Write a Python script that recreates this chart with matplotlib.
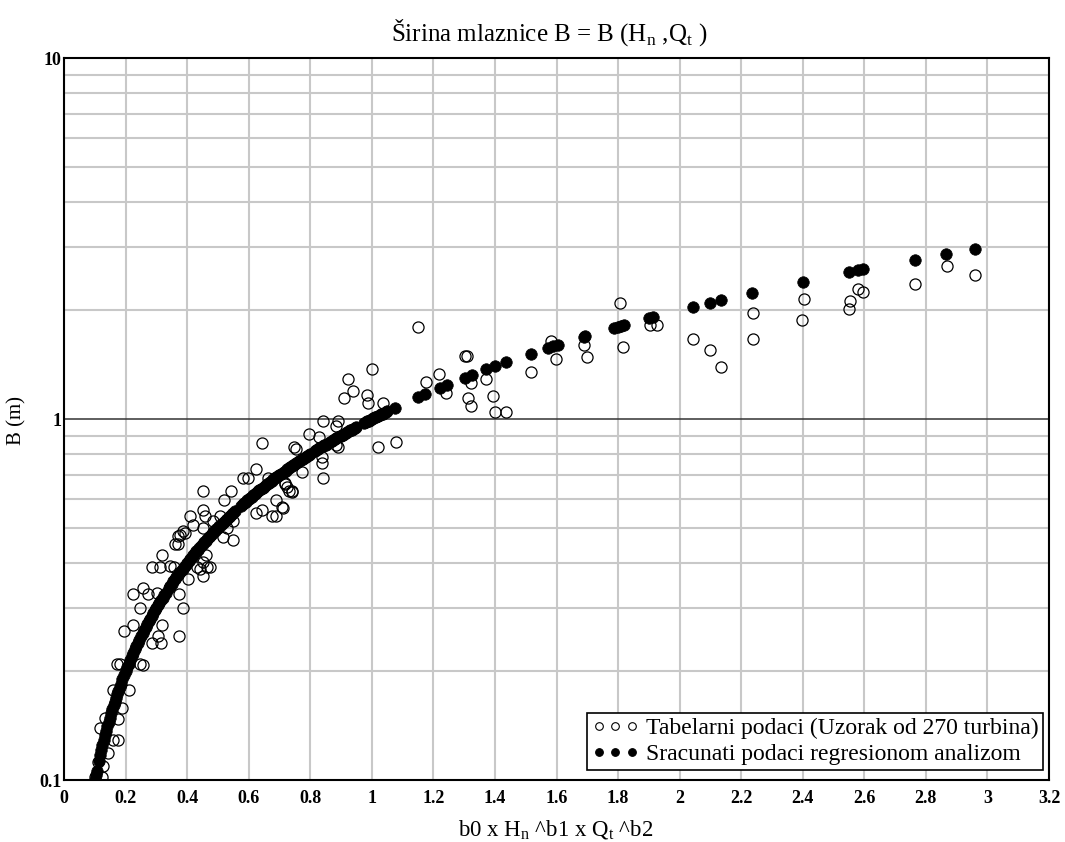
# Širina mlaznice B u zavisnosti od b0 x Hn^b1 x Qt^b2 (log skala)
import matplotlib.pyplot as plt
from matplotlib.lines import Line2D
from matplotlib.ticker import LogLocator, NullFormatter

# tabelarni podaci: argument regresije i izmerena širina B (m)
x_tab = [0.100, 0.122, 0.111, 0.128, 0.144, 0.160, 0.176, 0.117, 0.133, 0.176,
         0.187, 0.160, 0.212, 0.171, 0.182, 0.247, 0.255, 0.285, 0.314, 0.306,
         0.374, 0.196, 0.225, 0.317,
         0.247, 0.387, 0.225, 0.257, 0.274, 0.301, 0.374, 0.404, 0.452, 0.285,
         0.312, 0.344, 0.357, 0.431, 0.442, 0.465, 0.474, 0.317, 0.461, 0.360,
         0.371, 0.377, 0.393, 0.452, 0.371,
         0.420, 0.387, 0.409, 0.458, 0.483, 0.506, 0.528, 0.548, 0.517, 0.550,
         0.452, 0.450, 0.541, 0.519, 0.450, 0.642, 0.623, 0.677, 0.688, 0.712,
         0.707, 0.690, 0.731, 0.742, 0.718, 0.723, 0.582, 0.598, 0.663, 0.623,
         0.642,
         0.717, 0.740, 0.773, 0.747, 0.753, 0.795, 0.828, 0.838, 0.838, 0.841,
         0.841, 0.883, 0.890, 0.890, 0.885, 0.909, 0.922, 0.938, 0.984, 0.987,
         1.000, 1.019, 1.036, 1.078,
         1.149, 1.175, 1.218, 1.240, 1.302, 1.308, 1.312, 1.321, 1.321, 1.370,
         1.393, 1.399, 1.435, 1.516,
         1.581, 1.597, 1.688, 1.698, 1.805, 1.815, 1.905, 1.925, 2.045, 2.097,
         2.133, 2.237, 2.237, 2.396, 2.403, 2.549, 2.555, 2.578, 2.597, 2.763,
         2.867, 2.961]
b_tab = [0.102, 0.102, 0.112, 0.1095, 0.119, 0.129, 0.129, 0.139, 0.149, 0.148,
         0.158, 0.178, 0.178, 0.209, 0.209, 0.209, 0.208, 0.239, 0.239, 0.251,
         0.251, 0.259, 0.269, 0.269,
         0.299, 0.299, 0.328, 0.340, 0.328, 0.329, 0.328, 0.360, 0.367, 0.388,
         0.390, 0.392, 0.388, 0.390, 0.384, 0.390, 0.390, 0.420, 0.420, 0.451,
         0.451, 0.477, 0.482, 0.498, 0.474,
         0.509, 0.491, 0.539, 0.539, 0.522, 0.539, 0.498, 0.521, 0.472, 0.463,
         0.402, 0.560, 0.633, 0.596, 0.633, 0.560, 0.550, 0.539, 0.539, 0.566,
         0.570, 0.596, 0.633, 0.630, 0.664, 0.650, 0.685, 0.685, 0.685, 0.726,
         0.860,
         0.660, 0.628, 0.713, 0.836, 0.828, 0.909, 0.891, 0.785, 0.755, 0.687,
         0.987, 0.956, 0.987, 0.836, 0.848, 1.140, 1.290, 1.196, 1.165, 1.107,
         1.380, 0.836, 1.107, 0.864,
         1.800, 1.270, 1.330, 1.180, 1.495, 1.495, 1.140, 1.260, 1.087, 1.290,
         1.158, 1.046, 1.046, 1.350,
         1.645, 1.466, 1.600, 1.486, 2.090, 1.580, 1.820, 1.820, 1.670, 1.550,
         1.390, 1.970, 1.670, 1.880, 2.150, 2.020, 2.120, 2.290, 2.250, 2.370,
         2.650, 2.510]

# vrednosti b0 x Hn^b1 x Qt^b2 za koje je B sracunat regresijom
x_reg = [0.094, 0.097, 0.100, 0.103, 0.106,
         0.113, 0.117, 0.121, 0.125, 0.129, 0.133, 0.137, 0.141, 0.145, 0.149,
         0.153, 0.157, 0.161, 0.165, 0.169, 0.173, 0.177, 0.181, 0.185, 0.190,
         0.195, 0.200, 0.205, 0.210, 0.215, 0.220, 0.225, 0.230, 0.235, 0.240,
         0.245, 0.250, 0.255, 0.260, 0.265, 0.270, 0.275, 0.280, 0.285, 0.290,
         0.295, 0.300, 0.305, 0.310, 0.315, 0.320, 0.325, 0.330,
         0.340, 0.345, 0.350, 0.355, 0.360, 0.365, 0.370, 0.375, 0.380, 0.385,
         0.390, 0.395, 0.400, 0.405, 0.410, 0.415, 0.420, 0.425, 0.430, 0.435,
         0.440, 0.445, 0.450, 0.455, 0.460, 0.465, 0.470, 0.475, 0.480, 0.485,
         0.490, 0.495, 0.500, 0.505, 0.510, 0.515, 0.520, 0.525, 0.530, 0.535,
         0.540, 0.545, 0.550, 0.556,
         0.575, 0.580, 0.585, 0.590, 0.595, 0.600, 0.605, 0.610, 0.615, 0.620,
         0.625, 0.630, 0.635, 0.640, 0.645, 0.650, 0.655, 0.660, 0.665, 0.670,
         0.675, 0.680, 0.685, 0.690, 0.695, 0.700, 0.705, 0.710, 0.715, 0.720,
         0.725, 0.730, 0.735, 0.740, 0.745, 0.750, 0.755, 0.760, 0.765, 0.770,
         0.775, 0.780, 0.785, 0.790, 0.795, 0.800,
         0.815, 0.820, 0.825, 0.830, 0.835, 0.840, 0.845, 0.850, 0.855,
         0.865, 0.870, 0.875, 0.880, 0.885, 0.890, 0.895, 0.900, 0.905, 0.910,
         0.915, 0.920, 0.925, 0.930, 0.935, 0.940, 0.945, 0.950,
         0.975, 0.980, 0.985, 0.990, 0.995, 1.000, 1.005, 1.010, 1.015, 1.020,
         1.025, 1.030, 1.035, 1.040, 1.045, 1.050, 1.075,
         1.150, 1.174, 1.221, 1.243, 1.302, 1.324, 1.372, 1.399, 1.437, 1.516,
         1.572, 1.589, 1.605, 1.688, 1.694, 1.786, 1.800, 1.810, 1.820, 1.900,
         1.913, 2.043, 2.097, 2.133, 2.236, 2.400, 2.550, 2.579, 2.597, 2.764,
         2.866, 2.960]

x_ticks = [0, 0.2, 0.4, 0.6, 0.8, 1, 1.2, 1.4, 1.6, 1.8, 2, 2.2, 2.4, 2.6,
           2.8, 3, 3.2]
x_tick_labels = ["0", "0.2", "0.4", "0.6", "0.8", "1", "1.2", "1.4", "1.6",
                 "1.8", "2", "2.2", "2.4", "2.6", "2.8", "3", "3.2"]

plt.rcParams['font.family'] = ['Liberation Serif', 'DejaVu Serif']
plt.rcParams['mathtext.fontset'] = 'custom'
plt.rcParams['mathtext.rm'] = 'Liberation Serif'

fig = plt.figure(figsize=(10.65, 8.42), dpi=100)
ax = fig.add_axes([0.0601, 0.0736, 0.9249, 0.8575])

# tabelarni podaci - prazni kruzici
ax.plot(x_tab, b_tab, ls='none', marker='o', ms=8, mfc='none',
        mec='black', mew=0.9, zorder=3)
# sracunati podaci - B je jednak argumentu regresije
ax.plot(x_reg, x_reg, ls='none', marker='o', ms=8.3, mfc='black',
        mec='black', mew=0.5, zorder=4)

ax.set_yscale('log')
ax.set_xlim(0, 3.2)
ax.set_ylim(0.1, 10)

ax.set_xticks(x_ticks)
ax.set_xticklabels(x_tick_labels)
ax.set_yticks([0.1, 1, 10])
ax.set_yticklabels(["0.1", "1", "10"])
ax.yaxis.set_minor_locator(LogLocator(base=10, subs=range(2, 10)))
ax.yaxis.set_minor_formatter(NullFormatter())

ax.tick_params(axis='both', which='both', length=0)
ax.tick_params(axis='x', pad=7, labelsize=13)
ax.tick_params(axis='y', pad=2, labelsize=13)
for lab in ax.get_xticklabels() + ax.get_yticklabels():
    lab.set_fontweight('bold')

# mreza
ax.set_axisbelow(True)
ax.grid(axis='x', which='major', color='#c8c8c8', lw=1.5)
ax.grid(axis='y', which='minor', color='#c8c8c8', lw=1.5)
ax.axhline(1, color='#333333', lw=1.1, zorder=2)

for s in ax.spines.values():
    s.set_linewidth(1.5)
    s.set_color('black')

# naslov i oznake osa
fig.text(0.5155, 0.961, r"Širina mlaznice B = B (H$_{\mathrm{n}}$ ,Q$_{\mathrm{t}}$ )",
         ha='center', va='center', fontsize=18)
fig.text(0.522, 0.0145, r"b0 x H$_{\mathrm{n}}$ ^b1 x Q$_{\mathrm{t}}$ ^b2",
         ha='center', va='center', fontsize=16.5)
fig.text(0.016, 0.501, "B (m)", rotation=90, ha='center', va='center',
         fontsize=15)

# legenda
h_tab = Line2D([], [], ls='none', marker='o', ms=5.5, mfc='white',
               mec='black', mew=0.8)
h_reg = Line2D([], [], ls='none', marker='o', ms=5.5, mfc='black',
               mec='black', mew=0.8)
leg = ax.legend([h_tab, h_reg],
                ["Tabelarni podaci (Uzorak od 270 turbina)",
                 "Sracunati podaci regresionom analizom"],
                loc='lower right', bbox_to_anchor=(0.994, 0.014),
                numpoints=3, fontsize=17, frameon=True, fancybox=False,
                framealpha=1, edgecolor='black', borderpad=0.2,
                labelspacing=0.2, handlelength=2.0, handletextpad=0.3,
                borderaxespad=0)
leg.get_frame().set_linewidth(1.2)

plt.savefig("out.png", dpi=100)
